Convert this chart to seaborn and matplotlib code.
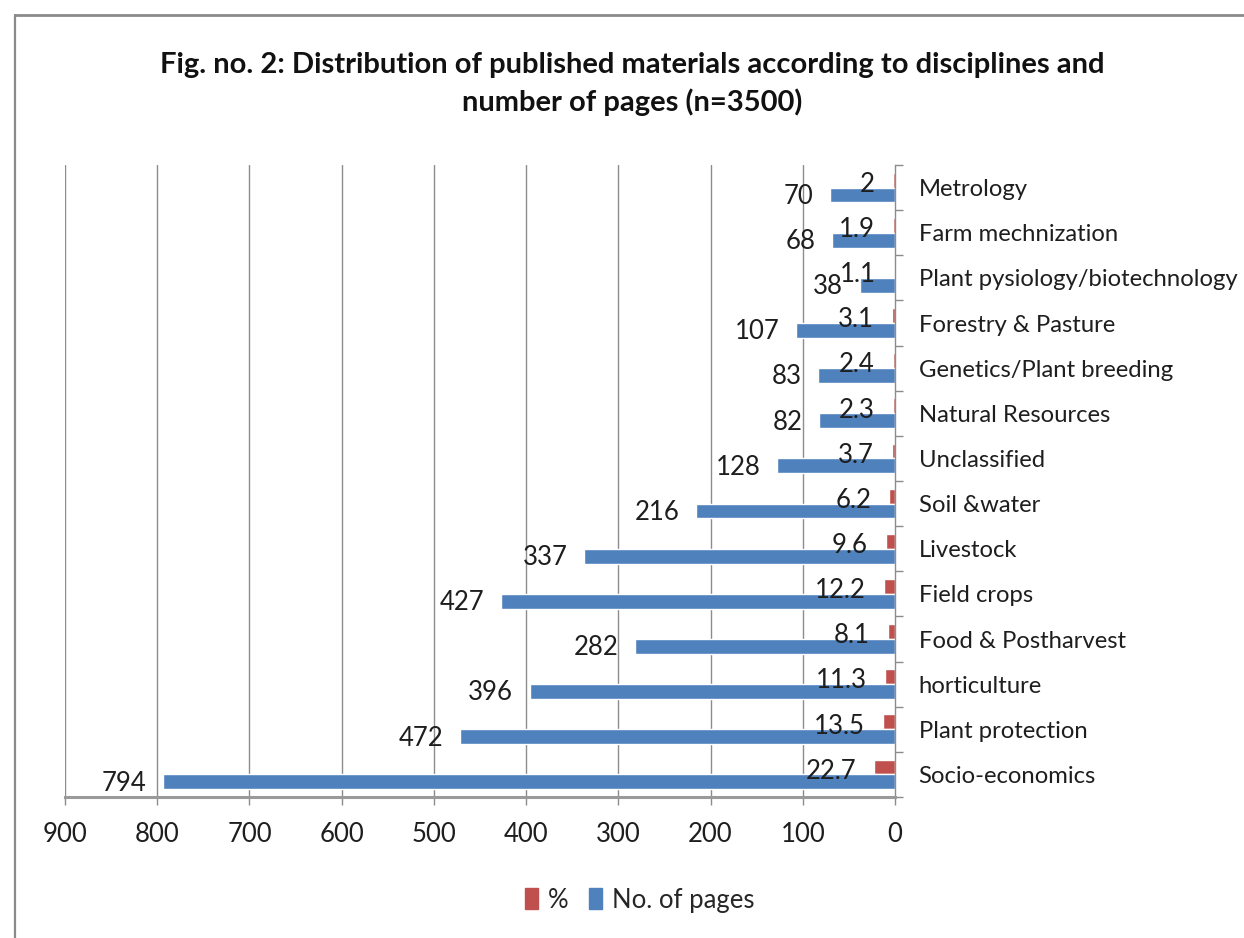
import matplotlib
matplotlib.use("Agg")
import matplotlib.pyplot as plt
import seaborn as sns
import pandas as pd
import numpy as np
from matplotlib.patches import Patch
from matplotlib.lines import Line2D

# ---- data (top to bottom as shown) ----
categories = ["Metrology", "Farm mechnization", "Plant pysiology/biotechnology",
              "Forestry & Pasture", "Genetics/Plant breeding", "Natural Resources",
              "Unclassified", "Soil &water", "Livestock", "Field crops",
              "Food & Postharvest", "horticulture", "Plant protection", "Socio-economics"]
pages = [70, 68, 38, 107, 83, 82, 128, 216, 337, 427, 282, 396, 472, 794]
percent = [2, 1.9, 1.1, 3.1, 2.4, 2.3, 3.7, 6.2, 9.6, 12.2, 8.1, 11.3, 13.5, 22.7]
series_names = ["%", "No. of pages"]
x_ticks = [900, 800, 700, 600, 500, 400, 300, 200, 100, 0]
title = "Fig. no. 2: Distribution of published materials according to disciplines and\nnumber of pages (n=3500)"

RED = "#C0504D"
BLUE = "#4F81BD"
GRID = "#8C8C8C"
TXT = "#1E1E1E"
FS = 18.5

sns.set_theme(style="white")
plt.rcParams["font.family"] = ["Lato", "DejaVu Sans"]

df = pd.DataFrame({
    "cat": categories * 2,
    "val": percent + pages,
    "series": [series_names[0]] * len(categories) + [series_names[1]] * len(categories),
})

fig = plt.figure(figsize=(12.44, 9.38), dpi=100)
ax = fig.add_axes([65 / 1244, 1 - 797 / 938, (895 - 65) / 1244, (797 - 165) / 938])

sns.barplot(data=df, y="cat", x="val", hue="series", order=categories,
            hue_order=series_names, palette=[RED, BLUE], orient="h",
            width=0.66, gap=0, ax=ax, legend=False, saturation=1)

ax.set_xlim(900, 0)
ax.set_ylim(len(categories) - 0.5, -0.5)
ax.set_xticks(x_ticks)
ax.set_xticklabels([str(t) for t in x_ticks], fontsize=FS, color=TXT)
ax.set_xlabel("")
ax.set_ylabel("")

# gridlines
ax.grid(False)
for t in x_ticks[:-1]:
    ax.axvline(t, color=GRID, lw=1.0, zorder=0)

# spines
for s in ["top", "left"]:
    ax.spines[s].set_visible(False)
ax.spines["bottom"].set_color("#9A9A9A")
ax.spines["bottom"].set_linewidth(2.2)
ax.spines["right"].set_color(GRID)
ax.spines["right"].set_linewidth(1.0)

# y axis on right
ax.yaxis.tick_right()
ax.set_yticks(range(len(categories)))
ax.set_yticklabels(categories, fontsize=17.2, color=TXT)
ax.set_yticks(np.arange(-0.5, len(categories), 1.0), minor=True)
ax.tick_params(axis="y", which="major", length=0, pad=17, right=True, left=False)
ax.tick_params(axis="y", which="minor", length=6, width=1, color=GRID, right=True, left=False, direction="out")
ax.tick_params(axis="x", which="major", length=6, width=1, color=GRID, direction="out", pad=12, bottom=True)

# value labels
cont_pct, cont_pages = ax.containers[0], ax.containers[1]
pct_texts = ax.bar_label(cont_pct, labels=[f"{v:g}" for v in percent], padding=13, fontsize=FS, color=TXT)
page_texts = ax.bar_label(cont_pages, labels=[f"{v:g}" for v in pages], padding=12, fontsize=FS, color=TXT)
for t in pct_texts:
    t.xyann = (t.xyann[0], t.xyann[1] - 3)
for t in page_texts:
    t.xyann = (t.xyann[0], t.xyann[1] - 1)

# title
fig.text(632 / 1244, 1 - 84 / 938, title, ha="center", va="center", fontsize=21,
         fontweight="bold", linespacing=1.5, color="#111111")

# legend
handles = [Patch(facecolor=RED, edgecolor=RED), Patch(facecolor=BLUE, edgecolor=BLUE)]
fig.legend(handles, series_names, loc="center", bbox_to_anchor=(640 / 1244, 1 - 900 / 938),
           ncol=2, frameon=False, fontsize=FS, handlelength=0.5, handleheight=0.9,
           handletextpad=0.4, columnspacing=0.8)

# frame lines of the chart box
fig.add_artist(Line2D([15 / 1244, 15 / 1244], [0, 1 - 15 / 938], color="#8A8A8A", lw=1.6,
                      transform=fig.transFigure))
fig.add_artist(Line2D([15 / 1244, 1], [1 - 15 / 938, 1 - 15 / 938], color="#8A8A8A", lw=2.0,
                      transform=fig.transFigure))

fig.savefig("out.png", dpi=100, facecolor="white")
